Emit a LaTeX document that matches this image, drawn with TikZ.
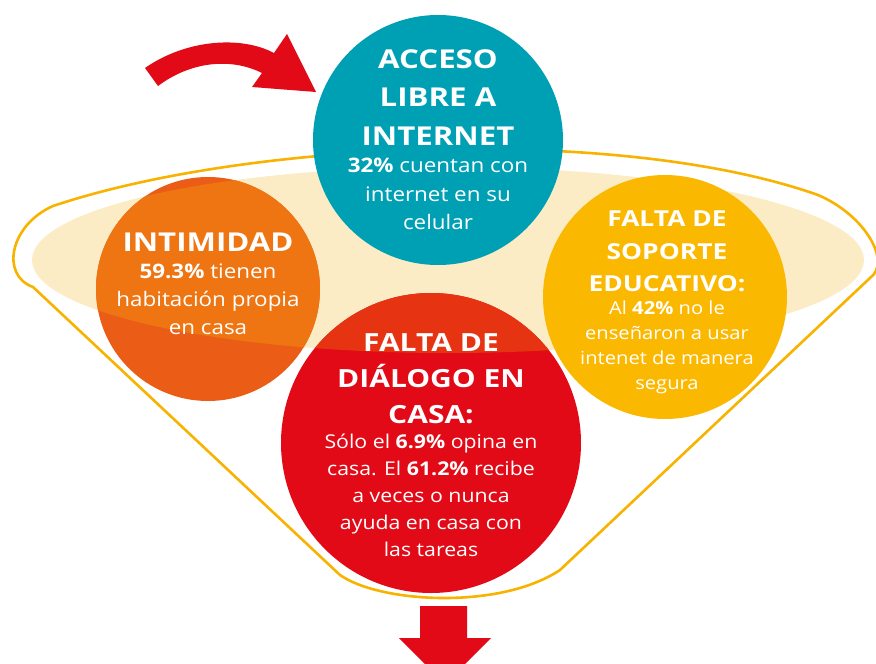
\documentclass[tikz,border=0pt]{standalone}
\usepackage{fontspec}
\setmainfont{Open Sans}[FakeStretch=1.12]
\newfontfamily\titlefam{Open Sans}[FakeStretch=1.2]
\usetikzlibrary{positioning}

\definecolor{accesoteal}{RGB}{0,160,180}
\definecolor{intimin}{RGB}{238,117,18}
\definecolor{intimout}{RGB}{235,93,23}
\definecolor{dialogin}{RGB}{230,51,18}
\definecolor{dialogout}{RGB}{226,10,23}
\definecolor{soporteyel}{RGB}{251,184,0}
\definecolor{embudocream}{RGB}{252,236,197}
\definecolor{embudoline}{RGB}{248,178,0}
\definecolor{flecha}{RGB}{226,10,23}

\newcommand{\titlefont}[2]{\fontsize{#1}{#2}\selectfont\titlefam\bfseries}
\newcommand{\bodyfont}[2]{\fontsize{#1}{#2}\selectfont}

\tikzset{
  bubble/.style={circle, inner sep=0pt, minimum size=#1},
  heading/.style={text=white, align=center, inner sep=0pt, anchor=north},
}

\begin{document}
\begin{tikzpicture}[x=1pt, y=-1pt]
  \useasboundingbox (0,0) rectangle (876,664);
  \clip (0,0) rectangle (876,664);
  % embudo
  \fill[embudocream] (448,260) ellipse [x radius=416pt, y radius=93pt];
  \draw[embudoline, line width=2.6pt, line join=round] (53,206) .. controls (250,140) and (620,125) .. (818,195)
    .. controls (865,215) and (892,262) .. (870,278) -- (560,570)
    .. controls (500,610) and (380,603) .. (340,575) -- (33,287)
    .. controls (0,275) and (10,225) .. (53,206) -- cycle;
  % circulos
  \node[bubble=224pt, fill=intimout] (intim) at (208,289) {};
  \node[bubble=300pt, fill=dialogout] (dialog) at (431,443) {};
  \node[bubble=244pt, fill=soporteyel] (soporte) at (665,297) {};
  \begin{scope}
    \clip (448,260) ellipse [x radius=416pt, y radius=93pt];
    \fill[intimin] (intim) circle [radius=112pt];
    \fill[dialogin] (dialog) circle [radius=150pt];
  \end{scope}
  \node[bubble=250pt, fill=accesoteal] (acceso) at (438,140) {};
  % textos
  \node[heading, font=\titlefont{26}{38.5}] (accesottl) at (438,49) {ACCESO\\LIBRE A\\INTERNET};
  \node[heading, font=\bodyfont{20}{28.5}] (accesotxt) at (438,158) {\textbf{32\%} cuentan con\\internet en su\\celular};
  \node[heading, font=\titlefont{26}{38}] (intimttl) at (208,233) {INTIMIDAD};
  \node[heading, font=\bodyfont{20}{28}] (intimtxt) at (208,264) {\textbf{59.3\%} tienen\\habitación propia\\en casa};
  \node[heading, font=\titlefont{25}{36}] (dialogttl) at (431,333) {FALTA DE\\DIÁLOGO EN\\CASA:};
  \node[heading, font=\bodyfont{19}{27}] (dialogtxt) at (431,434) {Sólo el \textbf{6.9\%} opina en\\casa. El \textbf{61.2\%} recibe\\a veces o nunca\\ayuda en casa con\\las tareas};
  \node[heading, font=\titlefont{22}{32.5}] (soportettl) at (667,211) {FALTA DE\\SOPORTE\\EDUCATIVO:};
  \node[heading, font=\bodyfont{18}{25}] (soportetxt) at (667,301) {Al \textbf{42\%} no le\\enseñaron a usar\\intenet de manera\\segura};
  % flechas
  \fill[flecha] (145,68) .. controls (185,40) and (240,35) .. (274,53) -- (287,34) -- (316,92)
    -- (252,87) -- (262,73) .. controls (230,57) and (190,62) .. (158,86) -- cycle;
  \fill[flecha] (420,606) -- (467,606) -- (467,638) -- (491,638) -- (445,684) -- (399,638) -- (420,638) -- cycle;
\end{tikzpicture}
\end{document}
